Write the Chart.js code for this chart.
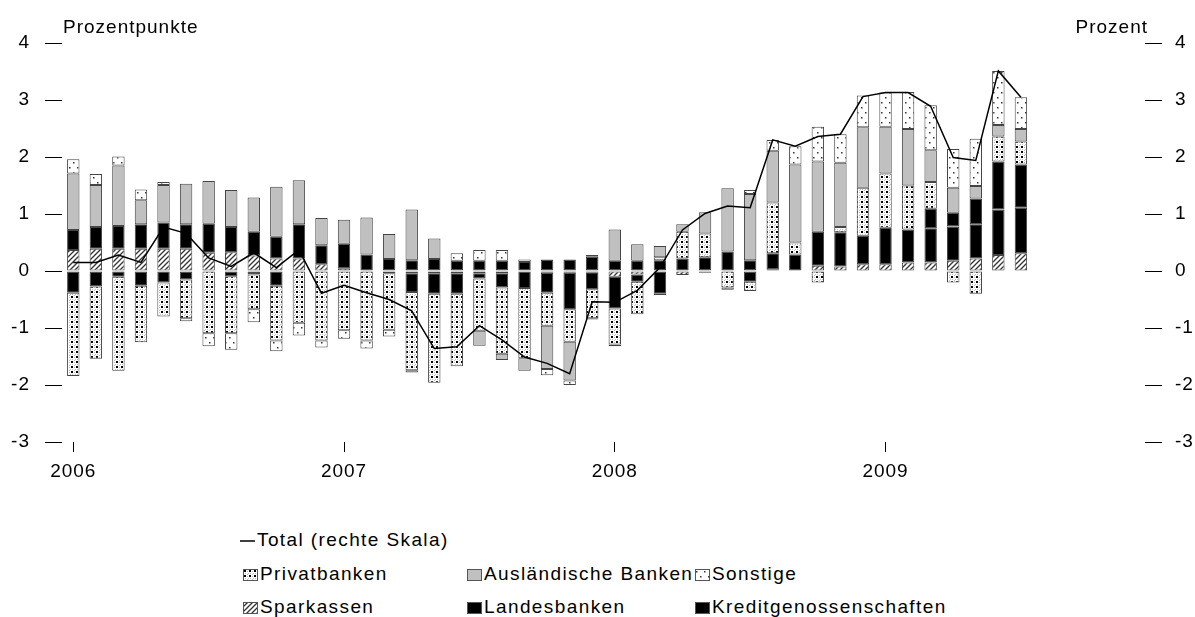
<!DOCTYPE html>
<html lang="de">
<head>
<meta charset="UTF-8">
<title>Bankengruppen</title>
<script src="https://cdn.jsdelivr.net/npm/chart.js"></script>
<style>
body { margin:0; background:#fff; font-family:"Liberation Sans", Arial, sans-serif; }
#wrap { position:relative; width:1195px; height:617px; overflow:hidden; }
#grafik { position:absolute; left:0; top:0; }
.leg { position:absolute; font-size:19px; line-height:20px; letter-spacing:1.4px; color:#000; white-space:nowrap; }
.leg canvas { vertical-align:-1px; margin-right:2px; }
</style>
</head>
<body>
<div id="wrap">
  <canvas id="grafik" width="1195" height="500"></canvas>
  <div id="legende"></div>
</div>
<script>
// Monate Jan 2006 - Dez 2009, Daten bis Jul 2009
const monate = [
  'Jan 06','Feb 06','Mrz 06','Apr 06','Mai 06','Jun 06','Jul 06','Aug 06','Sep 06','Okt 06','Nov 06','Dez 06',
  'Jan 07','Feb 07','Mrz 07','Apr 07','Mai 07','Jun 07','Jul 07','Aug 07','Sep 07','Okt 07','Nov 07','Dez 07',
  'Jan 08','Feb 08','Mrz 08','Apr 08','Mai 08','Jun 08','Jul 08','Aug 08','Sep 08','Okt 08','Nov 08','Dez 08',
  'Jan 09','Feb 09','Mrz 09','Apr 09','Mai 09','Jun 09','Jul 09','Aug 09','Sep 09','Okt 09','Nov 09','Dez 09'
];
const jahre = ['2006','2007','2008','2009'];

const sparkassen = [0.37,0.39,0.39,0.39,0.39,0.39,0.32,0.33,0.27,0.22, 0.22,0.12,0.05,null,null,-0.04,-0.04,-0.04,-0.04,-0.04,
  null,-0.03,-0.03,-0.02,-0.10,-0.06,null,-0.07,null,null, null,0.03,null,0.09,0.08,0.12,0.12,0.15,0.15,0.18, 0.22,0.28,0.31];
const kreditgen = [0.35,0.38,0.40,0.43,0.46,0.43,0.51,0.44,0.42,0.38, 0.60,0.33,0.43,0.29,0.21,0.19,0.21,0.18,0.18,0.18,
  0.16,0.20,0.20,0.25,0.18,0.18,0.19,0.22,0.24,0.34, 0.19,0.28,0.29,0.60,0.60,0.50,0.64,0.58,0.60,0.60, 0.60,0.80,0.80];
const landesbanken = [-0.38,-0.27,-0.10,-0.26,-0.20,-0.15,null,-0.09,-0.06,-0.26, null,null,null,null,-0.04,-0.33,-0.36,-0.36,-0.09,-0.25,
  -0.30,-0.35,-0.64,-0.30,-0.56,-0.13,-0.40,null,-0.03,null, -0.19,null,null,null,null,null,null,null,0.34,0.24, 0.45,0.84,0.76];
const privatbanken = [-1.46,-1.27,-1.65,-0.99,-0.60,-0.68,-1.09,-1.00,-0.61,-0.96, -0.91,-1.22,-1.04,-1.22,-0.99,-1.37,-1.56,-1.27,-0.92,-1.16,
  -1.23,-0.58,-0.57,-0.51,-0.63,-0.57,0.05,0.47,0.42,-0.29, -0.16,0.89,0.21,-0.20,0.09,0.84,0.95,0.77,0.47,-0.20, -0.40,0.44,0.40];
const auslaendische = [0.99,0.74,1.06,0.42,0.66,0.71,0.75,0.65,0.60,0.88, 0.77,0.48,0.42,0.65,0.44,0.89,0.36,null,-0.26,-0.11,
  -0.22,-0.76,-0.68,0.03,0.55,0.29,0.20,0.13,0.37,1.11, 1.16,0.91,1.37,1.23,1.13,1.06,0.82,0.99,0.56,0.44, 0.22,0.20,0.22];
const sonstige = [0.25,0.19,0.16,0.19,0.05,-0.05,-0.23,-0.29,-0.23,-0.19, -0.22,-0.12,-0.15,-0.14,-0.12,-0.04,null,0.13,0.19,0.19,
  0.04,-0.11,-0.08,-0.02,-0.03,null,-0.02,null,null,-0.04, 0.07,0.19,0.32,0.61,0.50,0.56,0.60,0.65,0.79,0.68, 0.83,0.95,0.56];
const total = [0.15,0.15,0.28,0.15,0.77,0.66,0.23,0.08,0.32,0.06, 0.37,-0.39,-0.25,-0.38,-0.50,-0.70,-1.36,-1.33,-0.96,-1.21,
  -1.51,-1.62,-1.80,-0.54,-0.55,-0.34,0.06,0.72,1.01,1.14, 1.11,2.30,2.19,2.36,2.40,3.06,3.13,3.13,2.89,1.99, 1.94,3.51,3.05];

const schrift = '"Liberation Sans", Arial, sans-serif';
Chart.defaults.font.family = schrift;
Chart.defaults.font.size = 19;
Chart.defaults.color = '#000';

// kleine Kacheln fuer die Muster
function kachelPrivat() {
  const c = document.createElement('canvas'); c.width = 5; c.height = 5;
  const g = c.getContext('2d');
  g.fillStyle = '#fff'; g.fillRect(0, 0, 5, 5);
  g.fillStyle = '#000'; g.fillRect(1, 1, 2, 2);
  g.fillStyle = '#bbb'; g.fillRect(4, 0, 1, 1); g.fillRect(4, 2, 1, 1); g.fillRect(0, 4, 1, 1); g.fillRect(2, 4, 1, 1);
  return c;
}
function kachelSonstige() {
  const c = document.createElement('canvas'); c.width = 8; c.height = 10;
  const g = c.getContext('2d');
  g.fillStyle = '#fff'; g.fillRect(0, 0, 8, 10);
  g.fillStyle = '#333'; g.fillRect(1, 2, 1.5, 1.5); g.fillRect(5, 7, 1.5, 1.5);
  return c;
}
function kachelSparkassen() {
  const c = document.createElement('canvas'); c.width = 5; c.height = 5;
  const g = c.getContext('2d');
  g.fillStyle = '#fff'; g.fillRect(0, 0, 5, 5);
  g.strokeStyle = '#333'; g.lineWidth = 1.3;
  g.beginPath();
  g.moveTo(-1, 6); g.lineTo(6, -1);
  g.moveTo(-1, 1); g.lineTo(1, -1);
  g.moveTo(4, 6); g.lineTo(6, 4);
  g.stroke();
  return c;
}
const kacheln = { privat: kachelPrivat(), sonstige: kachelSonstige(), sparkassen: kachelSparkassen() };

const canvas = document.getElementById('grafik');
const ctx = canvas.getContext('2d');
const fuellung = {
  privat: ctx.createPattern(kacheln.privat, 'repeat'),
  sonstige: ctx.createPattern(kacheln.sonstige, 'repeat'),
  sparkassen: ctx.createPattern(kacheln.sparkassen, 'repeat'),
  grau: '#c0c0c0',
  schwarz: '#000'
};

function balken(label, daten, farbe) {
  return {
    label: label, data: daten, backgroundColor: farbe,
    borderColor: '#444', borderWidth: 1, borderSkipped: false,
    barPercentage: 0.55, categoryPercentage: 1, yAxisID: 'y', order: 1
  };
}

// etwas Sperrung wie im Original
const sperrung = {
  id: 'sperrung',
  beforeLayout(chart) { chart.ctx.letterSpacing = '1px'; },
  beforeDraw(chart) { chart.ctx.letterSpacing = '1px'; }
};

const achsenTitel = {
  id: 'achsenTitel',
  afterDraw(chart) {
    const c = chart.ctx, a = chart.chartArea;
    c.save();
    c.font = '19px ' + schrift;
    c.letterSpacing = '1px';
    c.fillStyle = '#000';
    c.textBaseline = 'alphabetic';
    c.textAlign = 'left';
    c.fillText('Prozentpunkte', a.left + 1, 33);
    c.textAlign = 'right';
    c.fillText('Prozent', a.right + 3, 33);
    c.restore();
  }
};

new Chart(canvas, {
  type: 'bar',
  data: {
    labels: monate,
    datasets: [
      { type: 'line', label: 'Total (rechte Skala)', data: total, yAxisID: 'y2', borderColor: '#000',
        borderWidth: 1.5, pointRadius: 0, tension: 0, fill: false, order: 0 },
      balken('Sparkassen', sparkassen, fuellung.sparkassen),
      balken('Kreditgenossenschaften', kreditgen, fuellung.schwarz),
      balken('Landesbanken', landesbanken, fuellung.schwarz),
      balken('Privatbanken', privatbanken, fuellung.privat),
      balken('Ausländische Banken', auslaendische, fuellung.grau),
      balken('Sonstige', sonstige, fuellung.sonstige)
    ]
  },
  options: {
    responsive: false,
    animation: false,
    layout: { padding: { top: 43, left: 0, right: 0, bottom: 0 } },
    plugins: { legend: { display: false }, tooltip: { enabled: false } },
    scales: {
      x: {
        stacked: true,
        offset: true,
        border: { display: false },
        grid: {
          drawOnChartArea: false, offset: false, tickLength: 10, lineWidth: 1,
          color: c => (c.index % 12 === 0 ? '#000' : 'rgba(0,0,0,0)')
        },
        ticks: {
          autoSkip: false, maxRotation: 0, padding: 8,
          callback: (v, i) => (i % 12 === 0 ? jahre[i / 12] : '')
        },
        afterFit: s => { s.height = 58; }
      },
      y: {
        position: 'left', stacked: true, min: -3, max: 4,
        border: { display: false },
        grid: { drawOnChartArea: false, tickLength: 17, color: '#000' },
        ticks: { stepSize: 1, padding: 15 },
        afterFit: s => { s.width = 62; }
      },
      y2: {
        position: 'right', min: -3, max: 4,
        border: { display: false },
        grid: { drawOnChartArea: false, tickLength: 17, color: '#000' },
        ticks: { stepSize: 1, padding: 13 },
        afterFit: s => { s.width = 50; }
      }
    }
  },
  plugins: [sperrung, achsenTitel]
});

// Legende als HTML
const legendeEintraege = [
  { text: 'Total (rechte Skala)', art: 'linie', x: 240, y: 530 },
  { text: 'Privatbanken', art: 'privat', x: 243, y: 564 },
  { text: 'Ausländische Banken', art: 'grau', x: 467, y: 564 },
  { text: 'Sonstige', art: 'sonstige', x: 695, y: 564 },
  { text: 'Sparkassen', art: 'sparkassen', x: 243, y: 597 },
  { text: 'Landesbanken', art: 'schwarz', x: 467, y: 597 },
  { text: 'Kreditgenossenschaften', art: 'schwarz', x: 695, y: 597 }
];
const legende = document.getElementById('legende');
legendeEintraege.forEach(e => {
  const div = document.createElement('div');
  div.className = 'leg';
  div.style.left = e.x + 'px';
  div.style.top = e.y + 'px';
  const sw = document.createElement('canvas');
  sw.width = 15; sw.height = 12;
  const g = sw.getContext('2d');
  if (e.art === 'linie') {
    g.strokeStyle = '#000'; g.lineWidth = 1.5;
    g.beginPath(); g.moveTo(0, 6); g.lineTo(15, 6); g.stroke();
  } else {
    g.fillStyle = kacheln[e.art] ? g.createPattern(kacheln[e.art], 'repeat') : fuellung[e.art];
    g.fillRect(0, 0, 15, 12);
    g.strokeStyle = '#555'; g.lineWidth = 1;
    g.strokeRect(0.5, 0.5, 14, 11);
  }
  div.appendChild(sw);
  div.appendChild(document.createTextNode(e.text));
  legende.appendChild(div);
});
</script>
</body>
</html>
